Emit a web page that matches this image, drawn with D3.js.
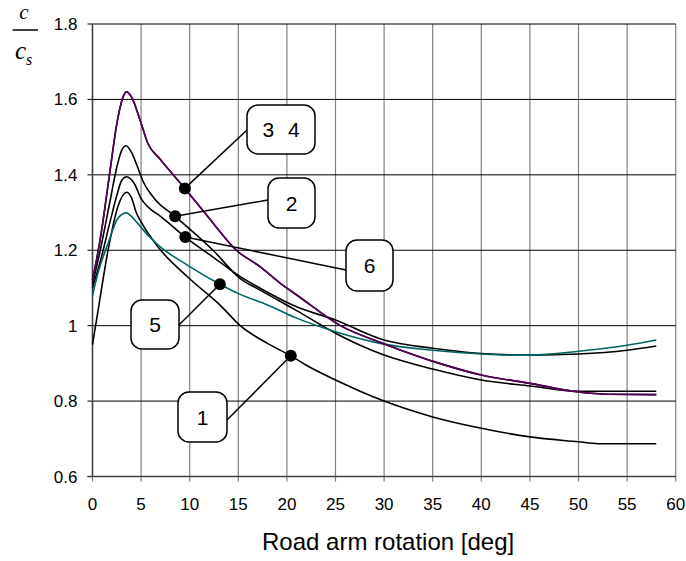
<!DOCTYPE html>
<html>
<head>
<meta charset="utf-8">
<script src="https://cdn.jsdelivr.net/npm/d3@7"></script>
<style>
  body { margin: 0; background: #fff; }
  svg { display: block; font-family: Arial, "Liberation Sans", sans-serif; }
</style>
</head>
<body>
<div id="chart"></div>
<script>
// ---- data ----
const xTicks = [0, 5, 10, 15, 20, 25, 30, 35, 40, 45, 50, 55, 60];
const yTicks = [0.6, 0.8, 1, 1.2, 1.4, 1.6, 1.8];

const curve1 = [[0,0.95],[0.57,1.04],[1.6,1.2],[2.6,1.315],[3.5,1.354],[4,1.34],[4.5,1.30],[5,1.275],
  [6.7,1.21],[9.8,1.129],[13.3,1.05],[15.2,1.0],[18,0.953],[20.4,0.92],[22,0.895],[25.5,0.85],
  [30,0.80],[35,0.758],[40,0.728],[45,0.705],[50,0.692],[52,0.687],[58,0.687]];

const curve2 = [[0,1.11],[0.8,1.20],[1.8,1.33],[2.5,1.42],[3,1.465],[3.45,1.477],[4,1.46],[4.5,1.43],
  [5.2,1.383],[6.4,1.336],[8.5,1.29],[12.4,1.2],[15.2,1.125],[17.2,1.095],[21,1.04],[25,0.98],
  [30,0.922],[35,0.885],[40,0.856],[45,0.84],[50,0.826],[53,0.826],[58,0.826]];

const curve3 = [[0,1.12],[0.8,1.23],[1.8,1.41],[2.5,1.535],[3.2,1.61],[3.5,1.62],[4,1.607],[4.9,1.545],
  [5.7,1.483],[6.9,1.443],[9.5,1.364],[12,1.285],[14.8,1.2],[17.2,1.157],[19.3,1.113],[21.3,1.076],
  [25.5,1.0],[29.9,0.953],[35.7,0.9],[40,0.869],[45,0.847],[50,0.824],[53,0.818],[58,0.817]];

const curve4 = [[0,1.12],[0.8,1.23],[1.8,1.41],[2.5,1.535],[3.2,1.61],[3.5,1.62],[4,1.607],[4.9,1.545],
  [5.7,1.483],[6.9,1.443],[9.5,1.364],[12,1.285],[14.8,1.2],[17.2,1.157],[19.3,1.113],[21.3,1.076],
  [25.5,1.0],[29.9,0.953],[35.7,0.9],[40,0.869],[45,0.847],[50,0.824],[53,0.818],[58,0.817]];

const curve5 = [[0,1.08],[0.57,1.14],[1.6,1.218],[2.6,1.284],[3.5,1.299],[4,1.29],[4.7,1.27],[5.7,1.24],
  [6.7,1.215],[9.8,1.16],[13.1,1.11],[15.2,1.083],[18,1.055],[21,1.02],[25,0.984],[30,0.951],
  [35,0.935],[40,0.925],[43.5,0.922],[45,0.922],[50,0.932],[55,0.948],[58,0.962]];

const curve6 = [[0,1.10],[0.8,1.17],[1.8,1.275],[2.5,1.345],[3,1.385],[3.5,1.395],[4.3,1.377],[5,1.337],
  [5.7,1.315],[7,1.29],[9.55,1.235],[12.4,1.182],[15.2,1.13],[17.2,1.1],[21,1.05],[25,1.015],
  [30,0.962],[35,0.94],[40,0.926],[45,0.922],[50,0.925],[55,0.935],[58,0.946]];

// drawing order: bottom first
const seriesData = [curve1, curve2, curve6, curve5, curve4, curve3];
const seriesColor = ["#000", "#000", "#000", "#006464", "#000", "#5a005a"];

// annotation labels and the curve point each one points at
const labelText = ["3 4", "2", "6", "5", "1"];
const labelPoint = [[9.5,1.364],[8.5,1.29],[9.55,1.235],[13.1,1.11],[20.4,0.92]];

// ---- layout ----
const W = 686, H = 561;
const plotL = 92.5, plotR = 675.7, plotT = 24, plotB = 476.5;

const svg = d3.select("#chart").append("svg")
  .attr("width", W).attr("height", H);

const x = d3.scaleLinear().domain([0, 60]).range([plotL, plotR]);
const y = d3.scaleLinear().domain([0.6, 1.8]).range([plotB, plotT]);

// grid
svg.append("g").selectAll("line").data(xTicks).enter().append("line")
  .attr("x1", d => x(d)).attr("x2", d => x(d))
  .attr("y1", plotT).attr("y2", plotB + 5)
  .attr("stroke", "#808080").attr("stroke-width", 1.2);

svg.append("g").selectAll("line").data(yTicks).enter().append("line")
  .attr("x1", plotL - 5).attr("x2", plotR)
  .attr("y1", d => y(d)).attr("y2", d => y(d))
  .attr("stroke", "#000").attr("stroke-width", 1);

// axes lines
svg.append("line").attr("x1", plotL).attr("x2", plotL).attr("y1", plotT).attr("y2", plotB)
  .attr("stroke", "#404040").attr("stroke-width", 1.5);
svg.append("line").attr("x1", plotL - 5).attr("x2", plotR).attr("y1", plotB).attr("y2", plotB)
  .attr("stroke", "#404040").attr("stroke-width", 1.5);

// tick labels
svg.append("g").selectAll("text").data(yTicks).enter().append("text")
  .attr("x", 77.5).attr("y", d => y(d) + 6)
  .attr("text-anchor", "end").attr("font-size", 17)
  .text(d => String(d));

svg.append("g").selectAll("text").data(xTicks).enter().append("text")
  .attr("x", d => x(d)).attr("y", 509.5)
  .attr("text-anchor", "middle").attr("font-size", 17)
  .text(d => d);

// curves
const line = d3.line()
  .x(d => x(d[0])).y(d => y(d[1]))
  .curve(d3.curveMonotoneX);

svg.append("g").selectAll("path").data(seriesData).enter().append("path")
  .attr("d", line)
  .attr("fill", "none")
  .attr("stroke", (d, i) => seriesColor[i])
  .attr("stroke-width", 1.6);

// annotation boxes (pixel layout)
const boxes = [
  {x: 247, y: 105, w: 68, h: 49, lx: 247, ly: 130},
  {x: 268, y: 178, w: 47, h: 50, lx: 268, ly: 200},
  {x: 346, y: 240, w: 47, h: 51, lx: 346, ly: 270},
  {x: 131, y: 300, w: 48, h: 49, lx: 179, ly: 325},
  {x: 178, y: 392, w: 49, h: 50, lx: 227, ly: 420}
];

const ann = svg.append("g");
labelText.forEach((t, i) => {
  const b = boxes[i];
  const px = x(labelPoint[i][0]), py = y(labelPoint[i][1]);
  ann.append("line")
    .attr("x1", b.lx).attr("y1", b.ly).attr("x2", px).attr("y2", py)
    .attr("stroke", "#000").attr("stroke-width", 1.5);
  ann.append("circle")
    .attr("cx", px).attr("cy", py).attr("r", 6)
    .attr("fill", "#000");
});
labelText.forEach((t, i) => {
  const b = boxes[i];
  ann.append("rect")
    .attr("x", b.x).attr("y", b.y).attr("width", b.w).attr("height", b.h)
    .attr("rx", 11).attr("ry", 11)
    .attr("fill", "#fff").attr("stroke", "#000").attr("stroke-width", 1.5);
  ann.append("text")
    .attr("x", b.x + b.w / 2).attr("y", b.y + b.h / 2 + 7.5)
    .attr("text-anchor", "middle").attr("font-size", 21)
    .attr("word-spacing", 8)
    .text(t);
});

// y axis label: c / c_s
const yl = svg.append("g").attr("font-family", "'Liberation Serif', 'DejaVu Serif', serif")
  .attr("font-style", "italic");
yl.append("text").attr("x", 24).attr("y", 18.5).attr("text-anchor", "middle")
  .attr("font-size", 21).text("c");
yl.append("line").attr("x1", 12.7).attr("x2", 38).attr("y1", 30).attr("y2", 30)
  .attr("stroke", "#000").attr("stroke-width", 1.5);
const cs = yl.append("text").attr("x", 15).attr("y", 59).attr("font-size", 25);
cs.append("tspan").text("c");
cs.append("tspan").attr("font-size", 16).attr("dy", 6).text("s");

// x axis title
svg.append("text")
  .attr("x", 262).attr("y", 550)
  .attr("font-size", 24)
  .text("Road arm rotation [deg]");
</script>
</body>
</html>
